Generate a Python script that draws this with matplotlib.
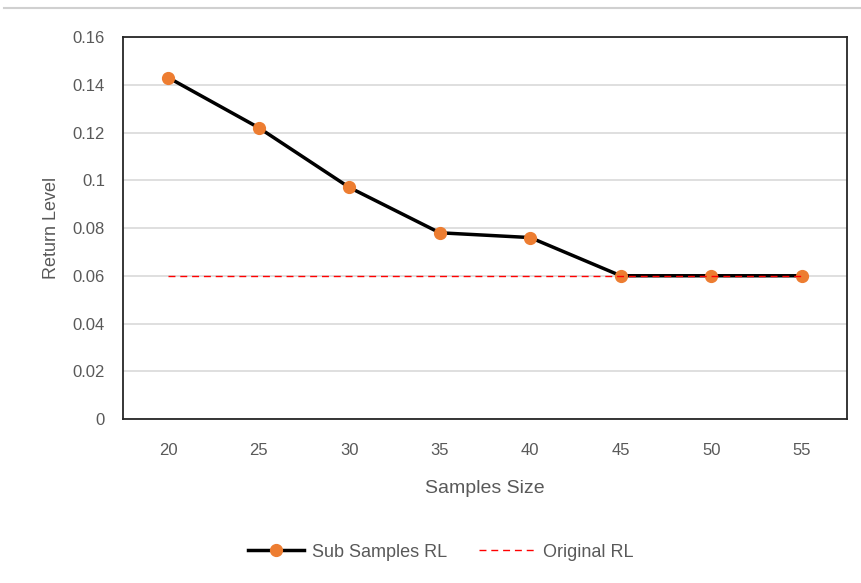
import matplotlib
matplotlib.use("Agg")
import matplotlib.pyplot as plt
from matplotlib.lines import Line2D

sample_sizes = ["20", "25", "30", "35", "40", "45", "50", "55"]
sub_samples_rl = [0.143, 0.122, 0.097, 0.078, 0.076, 0.060, 0.060, 0.060]
original_rl = [0.060] * len(sample_sizes)
y_ticks = [0, 0.02, 0.04, 0.06, 0.08, 0.1, 0.12, 0.14, 0.16]
y_tick_labels = ["0", "0.02", "0.04", "0.06", "0.08", "0.1", "0.12", "0.14", "0.16"]

plt.rcParams['font.family'] = ['Liberation Sans Narrow', 'Liberation Sans', 'DejaVu Sans']
text_color = "#595959"

fig = plt.figure(figsize=(8.61, 5.83), dpi=100)
ax = fig.add_axes([0.1429, 0.2813, 0.8408, 0.6552])

x = list(range(len(sample_sizes)))
ax.plot(x, sub_samples_rl, color="black", linewidth=2.5, marker="o",
        markersize=8.5, markerfacecolor="#ED7D31", markeredgecolor="#ED7D31",
        label="Sub Samples RL", zorder=3)
ax.plot(x, original_rl, color="#FF0000", linewidth=1.0, linestyle=(0, (5, 3.5)),
        label="Original RL", zorder=4)

ax.set_xlim(-0.5, len(sample_sizes) - 0.5)
ax.set_ylim(0, 0.16)
ax.set_yticks(y_ticks)
ax.set_yticklabels(y_tick_labels)
ax.set_xticks(x)
ax.set_xticklabels(sample_sizes)
ax.yaxis.grid(True, color="#D9D9D9", linewidth=1.2)
ax.set_axisbelow(True)
ax.tick_params(axis="y", length=0, labelsize=12, colors=text_color, pad=13)
ax.tick_params(axis="x", length=0, labelsize=12, colors=text_color, pad=17)
for s in ax.spines.values():
    s.set_color("#262626")
    s.set_linewidth(1.3)

ax.set_xlabel("Samples Size", fontsize=14, color=text_color, labelpad=16)
ax.set_ylabel("Return Level", fontsize=13, color=text_color, labelpad=9)

leg = fig.legend(loc="center", bbox_to_anchor=(0.512, 0.053), ncol=2, frameon=False,
                 fontsize=13, handlelength=3.1, handletextpad=0.45, columnspacing=1.8)
for t in leg.get_texts():
    t.set_color(text_color)

fig.add_artist(Line2D([0.005, 1.0], [1 - 8 / 583, 1 - 8 / 583], color="#D0D0D0",
                      linewidth=1.5, transform=fig.transFigure))

fig.savefig("out.png", dpi=100, facecolor="white")
